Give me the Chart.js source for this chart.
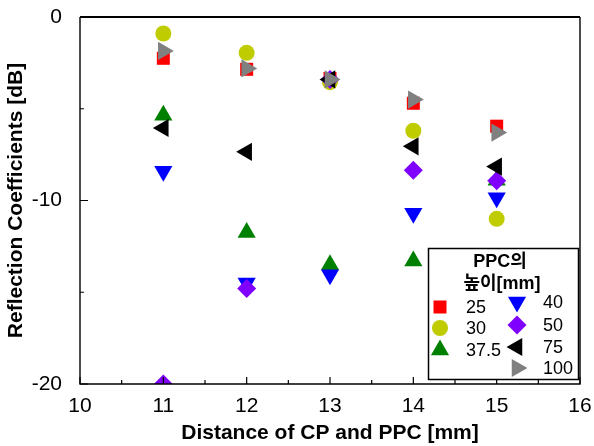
<!DOCTYPE html>
<html>
<head>
<meta charset="utf-8">
<script src="https://cdn.jsdelivr.net/npm/chart.js@4/dist/chart.umd.min.js"></script>
<style>
  html, body { margin: 0; padding: 0; background: #fff; }
  #wrap { width: 594px; height: 446px; }
</style>
</head>
<body>
<div id="wrap"><canvas id="chart" width="594" height="446"></canvas></div>
<script>
// distance of CP and PPC [mm]
const distances = [11, 12, 13, 14, 15];
// PPC height [mm] per series
const heights = ["25", "30", "37.5", "40", "50", "75", "100"];
const refl25  = [-2.25, -2.85, -3.35, -4.7, -5.95];
const refl30  = [-0.9, -1.95, -3.55, -6.2, -11.0];
const refl375 = [-5.35, -11.75, -13.5, -13.3, -8.9];
const refl40  = [-8.4, -14.5, -14.05, -10.7, -9.85];
const refl50  = [-20.0, -14.8, -3.4, -8.35, -8.92];
const refl75  = [-6.05, -7.35, -3.4, -7.05, -8.15];
const refl100 = [-1.85, -2.8, -3.4, -4.5, -6.3];
const xTicks = [10, 11, 12, 13, 14, 15, 16];
const yTicks = [0, -10, -20];

const FONT = "'Liberation Sans', Arial, 'Noto Sans CJK KR', sans-serif";

const styles = [
  { color: "#ff0000", pointStyle: "rect",     radius: 9.2, rotation: 0 },
  { color: "#bfcc00", pointStyle: "circle",   radius: 8,   rotation: 0 },
  { color: "#008000", pointStyle: "triangle", radius: 10.5, rotation: 0 },
  { color: "#0000ff", pointStyle: "triangle", radius: 10.5, rotation: 180 },
  { color: "#8000ff", pointStyle: "rectRot",  radius: 9.5, rotation: 0 },
  { color: "#000000", pointStyle: "triangle", radius: 10.5, rotation: 270 },
  { color: "#808080", pointStyle: "triangle", radius: 10.5, rotation: 90 }
];
const series = [refl25, refl30, refl375, refl40, refl50, refl75, refl100];

const datasets = series.map((vals, i) => ({
  label: heights[i],
  data: distances.map((d, k) => ({ x: d, y: vals[k] })),
  pointStyle: styles[i].pointStyle,
  pointRotation: styles[i].rotation,
  pointRadius: styles[i].radius,
  pointBackgroundColor: styles[i].color,
  pointBorderColor: styles[i].color,
  pointBorderWidth: 0,
  order: series.length - i   // later series on top
}));

// frame + inward ticks
const framePlugin = {
  id: "frame",
  afterDatasetsDraw(chart) {
    const { ctx, chartArea: a, scales: { x, y } } = chart;
    ctx.save();
    ctx.strokeStyle = "#000";
    ctx.lineWidth = 1.2;
    ctx.beginPath();
    for (let v = 10; v <= 16; v += 0.5) {
      const px = x.getPixelForValue(v);
      const len = Number.isInteger(v) ? 7 : 4;
      ctx.moveTo(px, a.bottom);
      ctx.lineTo(px, a.bottom - len);
    }
    for (let v = -20; v <= 0; v += 5) {
      const py = y.getPixelForValue(v);
      const len = v % 10 === 0 ? 8 : 4;
      ctx.moveTo(a.left, py);
      ctx.lineTo(a.left + len, py);
    }
    ctx.stroke();
    ctx.lineWidth = 1.4;
    ctx.beginPath();
    ctx.moveTo(a.left, a.top);
    ctx.lineTo(a.left, a.bottom);
    ctx.lineTo(a.right, a.bottom);
    ctx.lineTo(a.right, a.top);
    ctx.stroke();
    ctx.lineWidth = 2;
    ctx.beginPath();
    ctx.moveTo(a.left, a.top);
    ctx.lineTo(a.right, a.top);
    ctx.stroke();
    ctx.restore();
  }
};

// two-column legend box inside the plot
const legendPlugin = {
  id: "boxLegend",
  afterDraw(chart) {
    const ctx = chart.ctx;
    ctx.save();
    ctx.fillStyle = "#fff";
    ctx.strokeStyle = "#000";
    ctx.lineWidth = 1.5;
    ctx.fillRect(428.5, 248.5, 150, 131);
    ctx.strokeRect(428.5, 248.5, 150, 131);

    ctx.fillStyle = "#000";
    ctx.textAlign = "center";
    ctx.textBaseline = "middle";
    ctx.font = "bold 18px " + FONT;
    ctx.fillText("PPC의", 500, 262);
    ctx.fillText("높이[mm]", 502, 284);

    const pos = [
      [440, 307], [440, 328], [440, 350],
      [517, 302], [517, 325], [517, 347], [517, 368]
    ];
    ctx.font = "18px " + FONT;
    ctx.textAlign = "left";
    chart.data.datasets.forEach((ds, i) => {
      const [mx, my] = pos[i];
      ctx.fillStyle = ds.pointBackgroundColor;
      ctx.strokeStyle = ds.pointBorderColor;
      Chart.helpers.drawPoint(ctx, {
        pointStyle: ds.pointStyle,
        rotation: ds.pointRotation,
        radius: ds.pointRadius,
        borderWidth: 0
      }, mx, my);
      ctx.fillStyle = "#000";
      ctx.fillText(ds.label, mx + 26, my + 1);
    });
    ctx.restore();
  }
};

new Chart(document.getElementById("chart").getContext("2d"), {
  type: "scatter",
  data: { datasets },
  options: {
    responsive: false,
    animation: false,
    events: [],
    layout: { padding: { top: 17, right: 14, left: 0, bottom: 0 } },
    plugins: { legend: { display: false }, tooltip: { enabled: false } },
    scales: {
      x: {
        type: "linear",
        min: 10, max: 16,
        afterFit: s => { s.height = 62; s.paddingLeft = 0; s.paddingRight = 0; },
        afterBuildTicks: s => { s.ticks = xTicks.map(v => ({ value: v })); },
        grid: { display: false },
        border: { display: false },
        ticks: { color: "#000", padding: 2, font: { family: FONT, size: 21 } },
        title: {
          display: true,
          text: "Distance of CP and PPC [mm]",
          color: "#000",
          padding: { top: 0, bottom: 0 },
          font: { family: FONT, size: 21, weight: "bold" }
        }
      },
      y: {
        type: "linear",
        min: -20, max: 0,
        afterFit: s => { s.width = 80; s.paddingTop = 0; s.paddingBottom = 0; },
        afterBuildTicks: s => { s.ticks = yTicks.map(v => ({ value: v })); },
        grid: { display: false },
        border: { display: false },
        ticks: { color: "#000", padding: 10, font: { family: FONT, size: 21 } },
        title: {
          display: true,
          text: "Reflection Coefficients [dB]",
          color: "#000",
          padding: { top: 4, bottom: 0 },
          font: { family: FONT, size: 21, weight: "bold" }
        }
      }
    }
  },
  plugins: [framePlugin, legendPlugin]
});
</script>
</body>
</html>
